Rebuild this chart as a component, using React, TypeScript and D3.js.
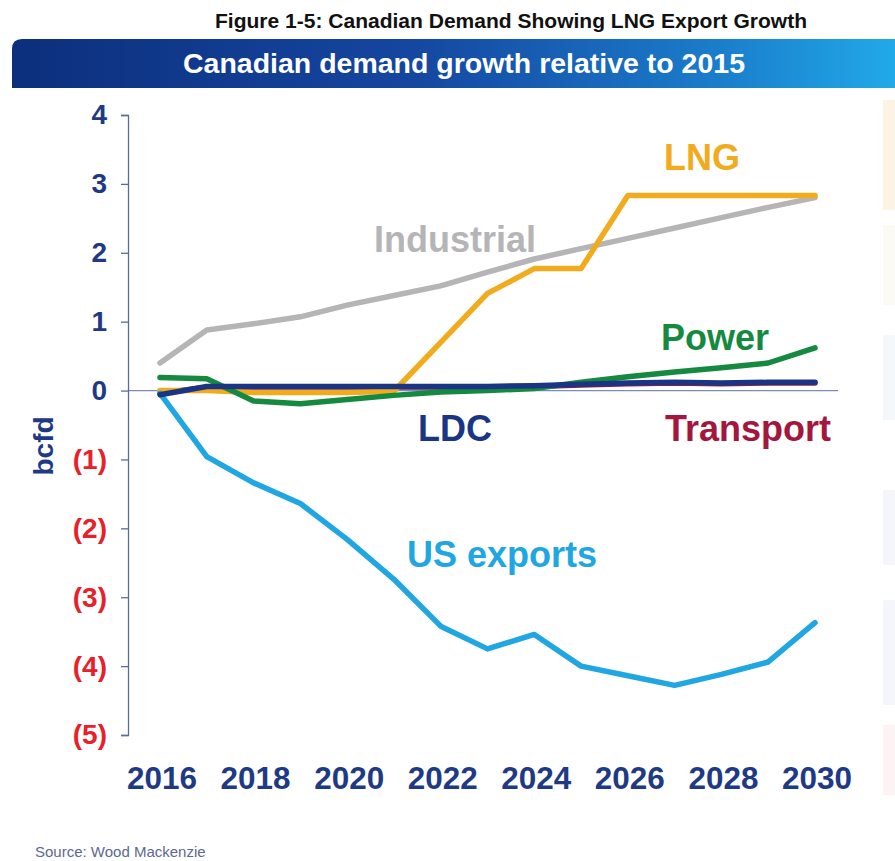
import * as d3 from "d3";
import React, { useEffect, useRef } from "react";

// values in bcfd, growth relative to 2015
const years = [2016, 2017, 2018, 2019, 2020, 2021, 2022, 2023, 2024, 2025, 2026, 2027, 2028, 2029, 2030];
const industrial = [0.4, 0.88, 0.97, 1.07, 1.24, 1.38, 1.52, 1.72, 1.91, 2.06, 2.21, 2.36, 2.51, 2.66, 2.8];
const lng = [0.0, 0.0, -0.03, -0.03, -0.03, -0.01, 0.7, 1.41, 1.77, 1.77, 2.83, 2.83, 2.83, 2.83, 2.83];
const power = [0.19, 0.17, -0.15, -0.19, -0.13, -0.07, -0.02, 0.0, 0.03, 0.12, 0.2, 0.27, 0.33, 0.4, 0.62];
const transport = [-0.04, 0.05, 0.05, 0.05, 0.05, 0.05, 0.05, 0.05, 0.06, 0.08, 0.1, 0.11, 0.1, 0.11, 0.11];
const ldc = [-0.06, 0.06, 0.06, 0.06, 0.06, 0.06, 0.06, 0.06, 0.07, 0.09, 0.11, 0.12, 0.11, 0.12, 0.12];
const usExports = [-0.04, -0.96, -1.34, -1.64, -2.16, -2.74, -3.42, -3.75, -3.54, -4.0, -4.14, -4.28, -4.12, -3.94, -3.37];

const yTicks = [4, 3, 2, 1, 0, -1, -2, -3, -4, -5];
const xTicks = [2016, 2018, 2020, 2022, 2024, 2026, 2028, 2030];

// drawn in this order (LDC on top)
const series = [
  { name: "Industrial", values: industrial, color: "#b5b5b7", lx: 455, ly: 252 },
  { name: "Transport", values: transport, color: "#a3173f", lx: 748, ly: 441 },
  { name: "LNG", values: lng, color: "#f2ab1c", lx: 702, ly: 170 },
  { name: "Power", values: power, color: "#15893f", lx: 715, ly: 350 },
  { name: "US exports", values: usExports, color: "#20a6e2", lx: 502, ly: 567 },
  { name: "LDC", values: ldc, color: "#1b3585", lx: 455, ly: 441 },
];

const sideTints = [
  { y: 100, h: 110, c: "#fdf3e2" },
  { y: 225, h: 80, c: "#fbfaf5" },
  { y: 335, h: 85, c: "#f4f8fa" },
  { y: 490, h: 75, c: "#f4f6fc" },
  { y: 600, h: 105, c: "#f5f5fc" },
  { y: 725, h: 70, c: "#fdf3f4" },
];

export default function App() {
  const ref = useRef<SVGSVGElement | null>(null);

  useEffect(() => {
    const svg = d3.select(ref.current);
    svg.selectAll("*").remove();

    const width = 895;
    const height = 861;
    svg.attr("width", width).attr("height", height);

    const font = "'Liberation Sans', Arial, sans-serif";

    svg.append("rect").attr("width", width).attr("height", height).attr("fill", "#ffffff");

    // faint boxes peeking in at the right edge
    svg
      .selectAll("rect.tint")
      .data(sideTints)
      .enter()
      .append("rect")
      .attr("class", "tint")
      .attr("x", 883)
      .attr("y", (d) => d.y)
      .attr("width", 12)
      .attr("height", (d) => d.h)
      .attr("fill", (d) => d.c);

    // figure title
    svg
      .append("text")
      .attr("x", 511)
      .attr("y", 28)
      .attr("text-anchor", "middle")
      .attr("font-family", font)
      .attr("font-weight", "bold")
      .attr("font-size", 20)
      .attr("textLength", 592)
      .attr("lengthAdjust", "spacingAndGlyphs")
      .attr("fill", "#111")
      .text("Figure 1-5: Canadian Demand Showing LNG Export Growth");

    // banner
    const defs = svg.append("defs");
    const grad = defs
      .append("linearGradient")
      .attr("id", "banner")
      .attr("x1", "0")
      .attr("x2", "1")
      .attr("y1", "0")
      .attr("y2", "0");
    grad.append("stop").attr("offset", "0").attr("stop-color", "#0c2f7c");
    grad.append("stop").attr("offset", "0.45").attr("stop-color", "#1546a0");
    grad.append("stop").attr("offset", "0.8").attr("stop-color", "#1a7dcb");
    grad.append("stop").attr("offset", "1").attr("stop-color", "#21a9e8");

    svg
      .append("path")
      .attr("d", "M22,39 L895,39 L895,88 L12,88 L12,49 Q12,39 22,39 Z")
      .attr("fill", "url(#banner)");

    svg
      .append("text")
      .attr("x", 464)
      .attr("y", 73)
      .attr("text-anchor", "middle")
      .attr("font-family", font)
      .attr("font-weight", "bold")
      .attr("font-size", 28)
      .attr("textLength", 562)
      .attr("lengthAdjust", "spacingAndGlyphs")
      .attr("fill", "#ffffff")
      .text("Canadian demand growth relative to 2015");

    const x = d3.scaleLinear().domain([2016, 2030]).range([160, 815]);
    const y = d3.scaleLinear().domain([-5, 4]).range([735, 115]);

    // zero line
    svg
      .append("line")
      .attr("x1", 128)
      .attr("x2", 838)
      .attr("y1", y(0))
      .attr("y2", y(0))
      .attr("stroke", "#7d8bb8")
      .attr("stroke-width", 1.2);

    // y axis
    const yAxis = svg
      .append("g")
      .attr("transform", "translate(128,0)")
      .call(
        d3
          .axisLeft(y)
          .tickValues(yTicks)
          .tickSize(7)
          .tickSizeOuter(7)
          .tickPadding(14)
          .tickFormat((d) => {
            const v = Number(d);
            return v < 0 ? `(${-v})` : String(v);
          })
      );
    yAxis.selectAll("path, line").attr("stroke", "#5a6a9e").attr("stroke-width", 1.3);
    yAxis
      .selectAll("text")
      .attr("font-family", font)
      .attr("font-weight", "bold")
      .attr("font-size", 28)
      .attr("fill", (d) => (Number(d) < 0 ? "#e8202a" : "#1f3a85"));

    // x labels
    svg
      .append("g")
      .selectAll("text")
      .data(xTicks)
      .enter()
      .append("text")
      .attr("x", (d) => x(d) + 2)
      .attr("y", 789)
      .attr("text-anchor", "middle")
      .attr("font-family", font)
      .attr("font-weight", "bold")
      .attr("font-size", 31)
      .attr("textLength", 70)
      .attr("lengthAdjust", "spacingAndGlyphs")
      .attr("fill", "#1f3a85")
      .text((d) => String(d));

    // y title
    svg
      .append("text")
      .attr("transform", "translate(53,446) rotate(-90)")
      .attr("text-anchor", "middle")
      .attr("font-family", font)
      .attr("font-weight", "bold")
      .attr("font-size", 28)
      .attr("fill", "#1f3a85")
      .text("bcfd");

    // lines
    const line = d3
      .line<number>()
      .x((_, i) => x(years[i]))
      .y((d) => y(d));

    svg
      .append("g")
      .selectAll("path")
      .data(series)
      .enter()
      .append("path")
      .attr("d", (d) => line(d.values))
      .attr("fill", "none")
      .attr("stroke", (d) => d.color)
      .attr("stroke-width", 5.5)
      .attr("stroke-linejoin", "round")
      .attr("stroke-linecap", "round");

    // series labels
    svg
      .append("g")
      .selectAll("text")
      .data(series)
      .enter()
      .append("text")
      .attr("x", (d) => d.lx)
      .attr("y", (d) => d.ly)
      .attr("text-anchor", "middle")
      .attr("font-family", font)
      .attr("font-weight", "bold")
      .attr("font-size", 36)
      .attr("fill", (d) => d.color)
      .text((d) => d.name);

    // source
    svg
      .append("text")
      .attr("x", 35)
      .attr("y", 857)
      .attr("font-family", font)
      .attr("font-size", 15)
      .attr("fill", "#5b6a90")
      .text("Source: Wood Mackenzie");
  }, []);

  return <svg ref={ref} style={{ position: "absolute", left: 0, top: 0, display: "block" }} />;
}
